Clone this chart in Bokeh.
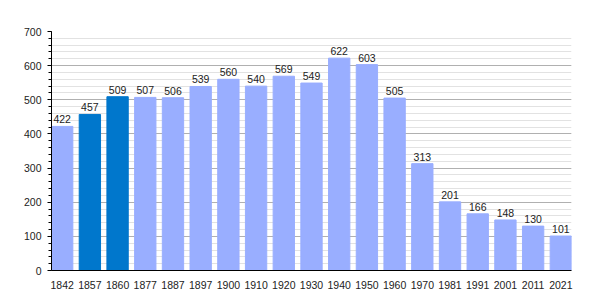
from bokeh.plotting import figure
from bokeh.models import ColumnDataSource, FixedTicker, Range1d, LabelSet
from bokeh.core.properties import value
from bokeh.embed import file_html
from bokeh.resources import INLINE

years = ["1842", "1857", "1860", "1877", "1887", "1897", "1900", "1910", "1920", "1930",
         "1940", "1950", "1960", "1970", "1981", "1991", "2001", "2011", "2021"]
population = [422, 457, 509, 507, 506, 539, 560, 540, 569, 549,
              622, 603, 505, 313, 201, 166, 148, 130, 101]
highlight = [False, True, True] + [False] * 16

LIGHT = "#99aeff"
DARK = "#0077cc"
FS = "10.5px"

n = len(years)
xs = list(range(n))
colors = [DARK if h else LIGHT for h in highlight]
src = ColumnDataSource(dict(x=xs, top=population, color=colors,
                            label=[str(v) for v in population]))

BW = 0.77
p = figure(width=600, height=300, output_backend="svg", toolbar_location=None,
           x_range=Range1d(-BW / 2, n - 1 + BW / 2), y_range=Range1d(0, 700),
           min_border_left=51, min_border_right=29, min_border_top=31, min_border_bottom=30)
p.outline_line_color = None
p.background_fill_color = "white"

p.vbar(x="x", top="top", width=BW, color="color", source=src)

labels = LabelSet(x="x", y="top", text="label", source=src, text_align="center",
                  text_baseline="bottom", y_offset=3, text_font_size=FS,
                  text_font=value("Liberation Sans"), text_color="#222222")
p.add_layout(labels)

p.xaxis.ticker = FixedTicker(ticks=xs)
p.xaxis.major_label_overrides = {x: y for x, y in zip(xs, years)}
p.xaxis.major_tick_line_color = None
p.xaxis.minor_tick_line_color = None
p.xaxis.axis_line_color = "black"
p.xaxis.major_label_standoff = 4
p.xaxis.major_label_text_font_size = FS
p.xaxis.major_label_text_font = "Liberation Sans"
p.xaxis.major_label_text_color = "#222222"
p.xgrid.grid_line_color = None

p.yaxis.ticker = FixedTicker(ticks=list(range(0, 701, 100)),
                             minor_ticks=list(range(0, 701, 20)))
p.yaxis.major_tick_out = 4
p.yaxis.major_tick_in = 0
p.yaxis.minor_tick_out = 3
p.yaxis.minor_tick_in = 0
p.yaxis.axis_line_color = "black"
p.yaxis.major_label_standoff = 6
p.yaxis.major_label_text_font_size = FS
p.yaxis.major_label_text_font = "Liberation Sans"
p.yaxis.major_label_text_color = "#222222"
p.ygrid.grid_line_color = "#b0b0b0"
p.ygrid.minor_grid_line_color = "#e2e2e2"
p.ygrid.level = "underlay"

open("out.html", "w").write(file_html(p, INLINE))
